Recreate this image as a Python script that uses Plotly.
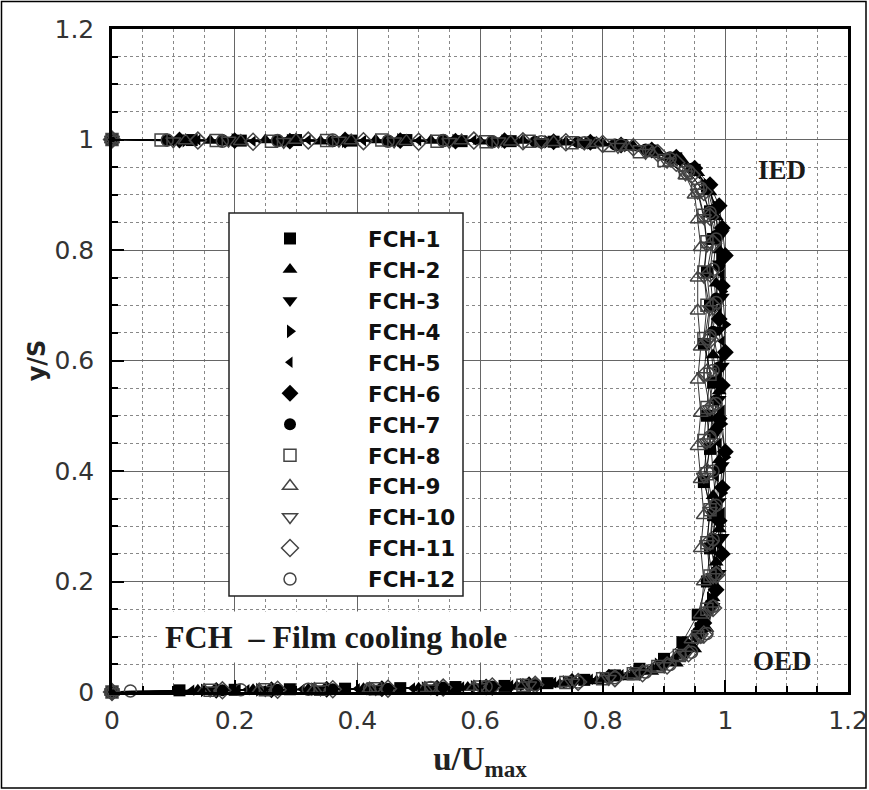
import plotly.graph_objects as go

# ---------------- data: u/Umax and y/S for each film cooling hole ----------------
NAMES = ["FCH-1", "FCH-2", "FCH-3", "FCH-4", "FCH-5", "FCH-6",
         "FCH-7", "FCH-8", "FCH-9", "FCH-10", "FCH-11", "FCH-12"]

U1 = [0.0, 0.13, 0.21, 0.30, 0.39, 0.48, 0.57, 0.65, 0.72, 0.78, 0.83, 0.88, 0.92, 0.95, 0.97, 0.975, 0.98, 0.97, 0.975, 0.965,
      0.98, 0.97, 0.975, 0.965, 0.98, 0.975, 0.97, 0.955, 0.93, 0.90, 0.86, 0.82, 0.77, 0.71, 0.64, 0.56, 0.47, 0.38, 0.29, 0.20, 0.11, 0.0]
Y1 = [1.0, 0.999, 0.998, 0.999, 0.998, 0.999, 0.997, 0.997, 0.996, 0.994, 0.99, 0.98, 0.966, 0.945, 0.915, 0.87, 0.82, 0.76, 0.70, 0.63,
      0.56, 0.50, 0.44, 0.38, 0.32, 0.26, 0.20, 0.14, 0.09, 0.06, 0.042, 0.03, 0.022, 0.016, 0.011, 0.009, 0.007, 0.006, 0.005, 0.004, 0.003, 0.0]

U2 = [0.0, 0.16, 0.25, 0.34, 0.43, 0.52, 0.60, 0.67, 0.74, 0.80, 0.85, 0.89, 0.93, 0.955, 0.975, 0.985, 0.99, 0.985, 0.99, 0.98,
      0.99, 0.985, 0.99, 0.98, 0.99, 0.985, 0.98, 0.97, 0.95, 0.92, 0.88, 0.84, 0.79, 0.73, 0.66, 0.58, 0.50, 0.41, 0.32, 0.23, 0.14, 0.0]
Y2 = [1.0, 0.998, 0.999, 0.997, 0.999, 0.998, 0.997, 0.998, 0.995, 0.993, 0.988, 0.977, 0.962, 0.94, 0.905, 0.86, 0.80, 0.74, 0.68, 0.61,
      0.545, 0.48, 0.42, 0.355, 0.295, 0.235, 0.17, 0.115, 0.078, 0.052, 0.037, 0.027, 0.02, 0.014, 0.01, 0.008, 0.007, 0.006, 0.005, 0.004, 0.003, 0.0]

U3 = [0.0, 0.10, 0.19, 0.28, 0.37, 0.46, 0.55, 0.63, 0.70, 0.77, 0.82, 0.87, 0.91, 0.945, 0.97, 0.985, 0.995, 0.99, 0.995, 0.99,
      0.995, 0.99, 0.985, 0.995, 0.99, 0.995, 0.99, 0.98, 0.96, 0.935, 0.90, 0.86, 0.81, 0.75, 0.68, 0.60, 0.52, 0.43, 0.34, 0.25, 0.16, 0.0]
Y3 = [1.0, 0.999, 0.998, 0.998, 0.999, 0.997, 0.998, 0.996, 0.997, 0.995, 0.991, 0.982, 0.969, 0.948, 0.92, 0.875, 0.83, 0.775, 0.715, 0.655,
      0.59, 0.53, 0.47, 0.41, 0.345, 0.28, 0.215, 0.155, 0.105, 0.07, 0.048, 0.034, 0.025, 0.018, 0.012, 0.009, 0.007, 0.006, 0.005, 0.004, 0.003, 0.0]

U4 = [0.0, 0.12, 0.20, 0.29, 0.38, 0.47, 0.56, 0.64, 0.71, 0.78, 0.84, 0.885, 0.92, 0.95, 0.97, 0.985, 0.995, 0.99, 0.995, 1.0,
      0.995, 0.99, 0.995, 1.0, 0.995, 0.99, 0.985, 0.975, 0.955, 0.93, 0.89, 0.85, 0.80, 0.74, 0.67, 0.59, 0.51, 0.42, 0.33, 0.24, 0.15, 0.0]
Y4 = [1.0, 0.998, 0.999, 0.998, 0.997, 0.999, 0.998, 0.997, 0.996, 0.994, 0.989, 0.979, 0.966, 0.946, 0.918, 0.878, 0.835, 0.785, 0.725, 0.665,
      0.605, 0.545, 0.485, 0.425, 0.36, 0.30, 0.235, 0.17, 0.115, 0.075, 0.05, 0.035, 0.025, 0.018, 0.013, 0.009, 0.007, 0.006, 0.005, 0.004, 0.003, 0.0]

U5 = [0.0, 0.14, 0.23, 0.32, 0.41, 0.50, 0.59, 0.66, 0.73, 0.79, 0.845, 0.89, 0.925, 0.955, 0.975, 0.985, 0.99, 0.995, 0.99, 0.995,
      0.99, 0.995, 0.99, 0.985, 0.995, 0.99, 0.985, 0.97, 0.95, 0.92, 0.88, 0.83, 0.78, 0.72, 0.65, 0.57, 0.49, 0.40, 0.31, 0.22, 0.13, 0.0]
Y5 = [1.0, 0.999, 0.997, 0.999, 0.998, 0.998, 0.999, 0.997, 0.995, 0.993, 0.988, 0.976, 0.96, 0.938, 0.91, 0.865, 0.815, 0.755, 0.695, 0.635,
      0.57, 0.51, 0.45, 0.39, 0.325, 0.265, 0.205, 0.145, 0.098, 0.064, 0.044, 0.031, 0.023, 0.017, 0.012, 0.009, 0.007, 0.006, 0.005, 0.004, 0.003, 0.0]

U6 = [0.0, 0.11, 0.20, 0.29, 0.38, 0.47, 0.56, 0.64, 0.72, 0.78, 0.83, 0.88, 0.92, 0.95, 0.975, 0.99, 0.995, 1.0, 0.995, 0.99,
      1.0, 0.995, 0.99, 1.0, 0.995, 0.99, 0.995, 0.985, 0.965, 0.94, 0.90, 0.86, 0.81, 0.75, 0.68, 0.61, 0.53, 0.44, 0.35, 0.26, 0.17, 0.0]
Y6 = [1.0, 0.999, 0.998, 0.997, 0.999, 0.998, 0.997, 0.998, 0.996, 0.995, 0.99, 0.981, 0.968, 0.948, 0.918, 0.88, 0.84, 0.79, 0.735, 0.675,
      0.615, 0.555, 0.495, 0.435, 0.37, 0.31, 0.25, 0.185, 0.125, 0.082, 0.054, 0.037, 0.027, 0.019, 0.013, 0.009, 0.007, 0.006, 0.005, 0.004, 0.003, 0.0]

U7 = [0.0, 0.09, 0.18, 0.27, 0.36, 0.45, 0.54, 0.62, 0.69, 0.76, 0.82, 0.87, 0.91, 0.945, 0.97, 0.98, 0.985, 0.99, 0.985, 0.98,
      0.99, 0.985, 0.98, 0.99, 0.985, 0.98, 0.985, 0.975, 0.955, 0.93, 0.895, 0.855, 0.81, 0.75, 0.69, 0.62, 0.54, 0.45, 0.36, 0.27, 0.18, 0.0]
Y7 = [1.0, 0.998, 0.999, 0.998, 0.997, 0.998, 0.999, 0.997, 0.996, 0.995, 0.991, 0.982, 0.968, 0.947, 0.915, 0.872, 0.826, 0.772, 0.712, 0.652,
      0.588, 0.528, 0.468, 0.405, 0.34, 0.278, 0.218, 0.158, 0.108, 0.072, 0.049, 0.035, 0.026, 0.019, 0.013, 0.01, 0.008, 0.006, 0.005, 0.004, 0.003, 0.0]

U8 = [0.0, 0.08, 0.17, 0.26, 0.35, 0.44, 0.53, 0.61, 0.68, 0.75, 0.81, 0.86, 0.90, 0.935, 0.955, 0.965, 0.97, 0.965, 0.97, 0.965,
      0.975, 0.97, 0.965, 0.97, 0.975, 0.97, 0.975, 0.97, 0.955, 0.925, 0.89, 0.85, 0.80, 0.74, 0.67, 0.60, 0.52, 0.43, 0.34, 0.25, 0.16, 0.0]
Y8 = [1.0, 0.999, 0.998, 0.997, 0.998, 0.999, 0.997, 0.996, 0.997, 0.994, 0.989, 0.978, 0.962, 0.94, 0.908, 0.863, 0.815, 0.76, 0.70, 0.64,
      0.575, 0.515, 0.455, 0.395, 0.33, 0.27, 0.21, 0.15, 0.1, 0.066, 0.046, 0.033, 0.024, 0.017, 0.012, 0.009, 0.007, 0.006, 0.005, 0.004, 0.003, 0.0]

U9 = [0.0, 0.12, 0.21, 0.30, 0.39, 0.48, 0.57, 0.65, 0.72, 0.79, 0.84, 0.88, 0.91, 0.935, 0.95, 0.955, 0.96, 0.955, 0.955, 0.96,
      0.955, 0.96, 0.955, 0.96, 0.965, 0.96, 0.965, 0.96, 0.945, 0.92, 0.885, 0.845, 0.80, 0.74, 0.67, 0.59, 0.51, 0.42, 0.33, 0.24, 0.15, 0.0]
Y9 = [1.0, 0.998, 0.997, 0.999, 0.998, 0.997, 0.998, 0.996, 0.995, 0.993, 0.987, 0.975, 0.958, 0.935, 0.9, 0.855, 0.805, 0.75, 0.69, 0.625,
      0.565, 0.505, 0.445, 0.385, 0.32, 0.26, 0.2, 0.14, 0.095, 0.063, 0.044, 0.031, 0.023, 0.016, 0.012, 0.009, 0.007, 0.006, 0.005, 0.004, 0.003, 0.0]

U10 = [0.0, 0.10, 0.19, 0.28, 0.37, 0.46, 0.55, 0.63, 0.70, 0.77, 0.825, 0.87, 0.905, 0.935, 0.955, 0.965, 0.97, 0.965, 0.975, 0.97,
       0.965, 0.975, 0.97, 0.965, 0.975, 0.97, 0.98, 0.975, 0.96, 0.935, 0.90, 0.86, 0.81, 0.75, 0.68, 0.60, 0.52, 0.43, 0.34, 0.25, 0.16, 0.0]
Y10 = [1.0, 0.997, 0.998, 0.996, 0.998, 0.997, 0.996, 0.997, 0.995, 0.993, 0.987, 0.976, 0.96, 0.937, 0.904, 0.858, 0.808, 0.752, 0.693, 0.633,
       0.572, 0.512, 0.452, 0.39, 0.328, 0.268, 0.208, 0.148, 0.1, 0.068, 0.047, 0.034, 0.024, 0.017, 0.012, 0.009, 0.007, 0.006, 0.005, 0.004, 0.003, 0.0]

U11 = [0.0, 0.14, 0.23, 0.32, 0.41, 0.50, 0.59, 0.67, 0.74, 0.80, 0.85, 0.89, 0.92, 0.945, 0.965, 0.975, 0.98, 0.975, 0.98, 0.975,
       0.97, 0.98, 0.975, 0.97, 0.98, 0.975, 0.985, 0.98, 0.965, 0.94, 0.905, 0.865, 0.82, 0.76, 0.69, 0.62, 0.54, 0.45, 0.36, 0.27, 0.18, 0.0]
Y11 = [1.0, 0.998, 0.996, 0.998, 0.997, 0.996, 0.998, 0.997, 0.995, 0.992, 0.986, 0.975, 0.958, 0.936, 0.905, 0.86, 0.812, 0.758, 0.698, 0.638,
       0.578, 0.518, 0.458, 0.398, 0.335, 0.272, 0.212, 0.152, 0.104, 0.07, 0.048, 0.034, 0.025, 0.018, 0.013, 0.01, 0.008, 0.006, 0.005, 0.004, 0.003, 0.0]

U12 = [0.0, 0.09, 0.18, 0.27, 0.36, 0.45, 0.54, 0.62, 0.70, 0.77, 0.83, 0.875, 0.91, 0.94, 0.96, 0.975, 0.985, 0.98, 0.985, 0.975,
       0.98, 0.985, 0.975, 0.98, 0.985, 0.98, 0.985, 0.98, 0.97, 0.945, 0.91, 0.87, 0.82, 0.76, 0.69, 0.61, 0.52, 0.42, 0.32, 0.21, 0.03, 0.0]
Y12 = [1.0, 0.999, 0.997, 0.998, 0.999, 0.997, 0.998, 0.996, 0.996, 0.994, 0.99, 0.98, 0.965, 0.943, 0.912, 0.868, 0.82, 0.765, 0.705, 0.645,
       0.582, 0.522, 0.462, 0.4, 0.338, 0.276, 0.214, 0.155, 0.106, 0.072, 0.05, 0.036, 0.026, 0.018, 0.013, 0.01, 0.008, 0.006, 0.005, 0.004, 0.002, 0.0]

U_ALL = [U1, U2, U3, U4, U5, U6, U7, U8, U9, U10, U11, U12]
Y_ALL = [Y1, Y2, Y3, Y4, Y5, Y6, Y7, Y8, Y9, Y10, Y11, Y12]

X_TICKS = [0, 0.2, 0.4, 0.6, 0.8, 1.0, 1.2]
X_TICK_TEXT = ["0", "0.2", "0.4", "0.6", "0.8", "1", "1.2"]
Y_TICKS = [0, 0.2, 0.4, 0.6, 0.8, 1.0, 1.2]
Y_TICK_TEXT = ["0", "0.2", "0.4", "0.6", "0.8", "1", "1.2"]

# ---------------- styling ----------------
SYMBOLS = ["square", "triangle-up", "triangle-down", "triangle-right", "triangle-left",
           "diamond", "circle", "square-open", "triangle-up-open", "triangle-down-open",
           "diamond-open", "circle-open"]
SIZES = [12, 13, 13, 12, 10, 13, 12, 12, 13, 13, 13, 12]

W, H = 869, 790
ML, MR, MT, MB = 112, 21, 29, 98
PW = W - ML - MR
PH = H - MT - MB

fig = go.Figure()
# thin connecting lines (no legend entry)
for i, name in enumerate(NAMES):
    fig.add_trace(go.Scatter(
        x=U_ALL[i], y=Y_ALL[i], mode="lines", showlegend=False, hoverinfo="skip",
        line=dict(color="black", width=0.8), cliponaxis=False,
    ))
# markers (with legend entry)
for i, name in enumerate(NAMES):
    is_open = SYMBOLS[i].endswith("open")
    fig.add_trace(go.Scatter(
        x=U_ALL[i], y=Y_ALL[i], name=name, mode="markers",
        marker=dict(symbol=SYMBOLS[i], size=SIZES[i],
                    color="#444444" if is_open else "black",
                    line=dict(color="#444444" if is_open else "black",
                              width=1.5 if is_open else 0)),
        cliponaxis=False,
    ))

grid_major = "#666666"
grid_minor = "#888888"
tickfont = dict(family="DejaVu Sans", size=25, color="#333333")

fig.update_xaxes(
    range=[0, 1.2], tickvals=X_TICKS, ticktext=X_TICK_TEXT,
    showgrid=True, gridcolor=grid_major, gridwidth=1.2,
    ticks="inside", ticklen=12, tickwidth=2, tickcolor="black",
    showline=True, linecolor="black", linewidth=2.5, mirror=True,
    zeroline=False, tickfont=tickfont, ticklabelstandoff=4,
    automargin=False,
    minor=dict(dtick=0.05, tick0=0, showgrid=True, gridcolor=grid_minor,
               griddash="dot", gridwidth=1.2, ticks="inside", ticklen=6,
               tickwidth=1.5, tickcolor="black"),
    title=dict(text="u/U<sub>max</sub>",
               font=dict(family="Liberation Serif", size=33, color="#222222", weight="bold"),
               standoff=14),
)
fig.update_yaxes(
    range=[0, 1.2], tickvals=Y_TICKS, ticktext=Y_TICK_TEXT,
    showgrid=True, gridcolor=grid_major, gridwidth=1.2,
    ticks="inside", ticklen=12, tickwidth=2, tickcolor="black",
    showline=True, linecolor="black", linewidth=2.5, mirror=True,
    zeroline=False, tickfont=tickfont, ticklabelstandoff=10,
    automargin=False,
    minor=dict(dtick=0.05, tick0=0, showgrid=True, gridcolor=grid_minor,
               griddash="dot", gridwidth=1.2, ticks="inside", ticklen=6,
               tickwidth=1.5, tickcolor="black"),
    title=dict(text="y/S",
               font=dict(family="DejaVu Sans", size=24, color="#222222", weight="bold"),
               standoff=3),
)

def px_to_u(px):
    return (px - ML) / PW * 1.2

def py_to_y(py):
    return (MT + PH - py) / PH * 1.2

shapes = [
    # legend box
    dict(type="rect", xref="x", yref="y",
         x0=px_to_u(229), x1=px_to_u(463), y0=py_to_y(596), y1=py_to_y(213),
         fillcolor="white", line=dict(color="#222222", width=1.5), layer="above"),
    # outer frame of the figure
    dict(type="rect", xref="paper", yref="paper",
         x0=(1.5 - ML) / PW, x1=(866 - ML) / PW,
         y0=(MT + PH - 788) / PH, y1=(MT + PH - 1.5) / PH,
         line=dict(color="black", width=1.5), fillcolor="rgba(0,0,0,0)"),
]

annotations = [
    dict(text="FCH\u00a0\u00a0\u2013 Film cooling hole", xref="x", yref="y",
         x=px_to_u(336), y=py_to_y(637), showarrow=False,
         font=dict(family="Liberation Serif", size=32, color="#1a1a1a", weight="bold"),
         bgcolor="white", borderpad=7),
    dict(text="IED", xref="x", yref="y", x=px_to_u(782), y=py_to_y(170),
         showarrow=False,
         font=dict(family="Liberation Serif", size=27, color="#1a1a1a", weight="bold")),
    dict(text="OED", xref="x", yref="y", x=px_to_u(782), y=py_to_y(661),
         showarrow=False,
         font=dict(family="Liberation Serif", size=27, color="#1a1a1a", weight="bold")),
]

fig.update_layout(
    width=W, height=H,
    margin=dict(l=ML, r=MR, t=MT, b=MB, autoexpand=False),
    paper_bgcolor="white", plot_bgcolor="white",
    showlegend=True,
    legend=dict(x=(212 - ML) / PW, y=(MT + PH - 218) / PH,
                xanchor="left", yanchor="top",
                bgcolor="rgba(0,0,0,0)", borderwidth=0,
                itemwidth=146,
                font=dict(family="DejaVu Sans", size=21.5, color="#111111", weight="bold")),
    shapes=shapes, annotations=annotations,
)

fig.write_html("out.html", config={"displayModeBar": False},
               post_script="document.body.style.margin='0';document.body.style.padding='0';")
